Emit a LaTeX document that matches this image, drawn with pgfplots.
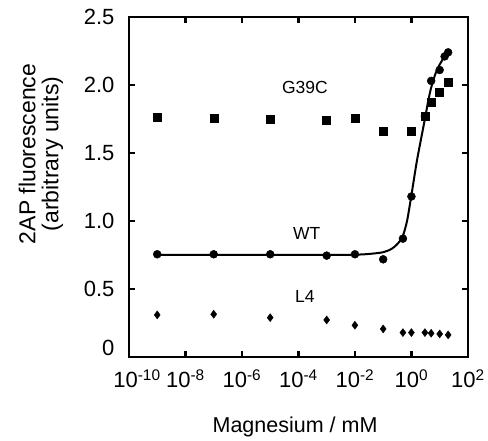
\documentclass[border=0pt]{standalone}
\usepackage{fontspec}
\setmainfont{Liberation Sans}
\usepackage{pgfplots}
\pgfplotsset{compat=1.18}
\usetikzlibrary{calc}

\pgfplotstableread{
x y
1e-9 1.762
1e-7 1.755
1e-5 1.748
1e-3 1.743
1e-2 1.753
0.1 1.657
1 1.66
3 1.77
5 1.87
10 1.95
20 2.02
}\gthreenine

\pgfplotstableread{
x y
1e-9 0.755
1e-7 0.755
1e-5 0.755
1e-3 0.745
1e-2 0.755
0.1 0.718
0.5 0.87
1 1.18
3 1.77
5 2.03
10 2.11
15 2.21
20 2.24
}\wt

\pgfplotstableread{
x y
1e-9 0.309
1e-7 0.314
1e-5 0.289
1e-3 0.272
1e-2 0.233
0.1 0.206
0.5 0.179
1 0.179
3 0.179
5 0.174
10 0.169
20 0.162
}\lfour

% fitted curve for WT
\pgfplotstableread{
x y
1e-9 0.75
1e-7 0.75
1e-5 0.75
1e-4 0.75
1e-3 0.75
1e-2 0.752
3e-2 0.757
0.1 0.77
0.2 0.795
0.3 0.825
0.4 0.855
0.5 0.89
0.7 1.00
1 1.19
1.5 1.42
2 1.56
3 1.75
4 1.89
5 1.98
7 2.08
10 2.15
15 2.21
20 2.245
}\wtfit

\begin{document}
\begin{tikzpicture}
\begin{axis}[
  name=ax,
  xmode=log,
  scale only axis,
  width=339bp, height=340bp,
  xmin=1e-10, xmax=1e2, ymin=0, ymax=2.5,
  xtick={1e-10,1e-8,1e-6,1e-4,1e-2,1,1e2},
  xticklabels={{\hspace*{16bp}10\textsuperscript{-10}},10\textsuperscript{-8},10\textsuperscript{-6},10\textsuperscript{-4},10\textsuperscript{-2},10\textsuperscript{0},10\textsuperscript{2}},
  ytick={0,0.5,1,1.5,2,2.5},
  yticklabels={\raisebox{9bp}{0},0.5,1.0,1.5,2.0,2.5},
  xminorticks=false,
  axis line style={line width=2.5bp},
  every tick/.style={line width=2.5bp, black},
  major tick length=6bp,
  tick label style={font=\fontsize{22bp}{26bp}\selectfont},
  xticklabel style={anchor=base, yshift=-31bp},
  yticklabel style={anchor=base east, xshift=-11bp, yshift=-7.9bp},
  xlabel={Magnesium / mM},
  ylabel={2AP fluorescence\\(arbitrary units)},
  every axis x label/.style={at={(axis description cs:0.49,-0.2226)}, anchor=base,
    font=\fontsize{21.5bp}{25bp}\selectfont},
  every axis y label/.style={at={(axis description cs:-0.26,0.597)}, rotate=90, anchor=center, align=center,
    font=\fontsize{23bp}{23bp}\selectfont},
]
\addplot[only marks, mark=square*, mark size=4bp, black] table {\gthreenine};
\addplot[line width=2bp, black, smooth, no marks] table {\wtfit};
\addplot[only marks, mark=*, mark size=4bp, black] table {\wt};
\addplot[only marks, mark=diamond*, mark size=4bp, black] table {\lfour};
\node[font=\fontsize{17.5bp}{20bp}\selectfont] at (axis cs:1.7e-4,1.98) {G39C};
\node[font=\fontsize{17.5bp}{20bp}\selectfont] at (axis cs:1.95e-4,0.908) {WT};
\node[font=\fontsize{17.5bp}{20bp}\selectfont] at (axis cs:1.7e-4,0.448) {L4};
\end{axis}
\path ($(ax.south west)+(-129bp,-79bp)$) rectangle ($(ax.north east)+(20bp,17bp)$);
\end{tikzpicture}
\end{document}
